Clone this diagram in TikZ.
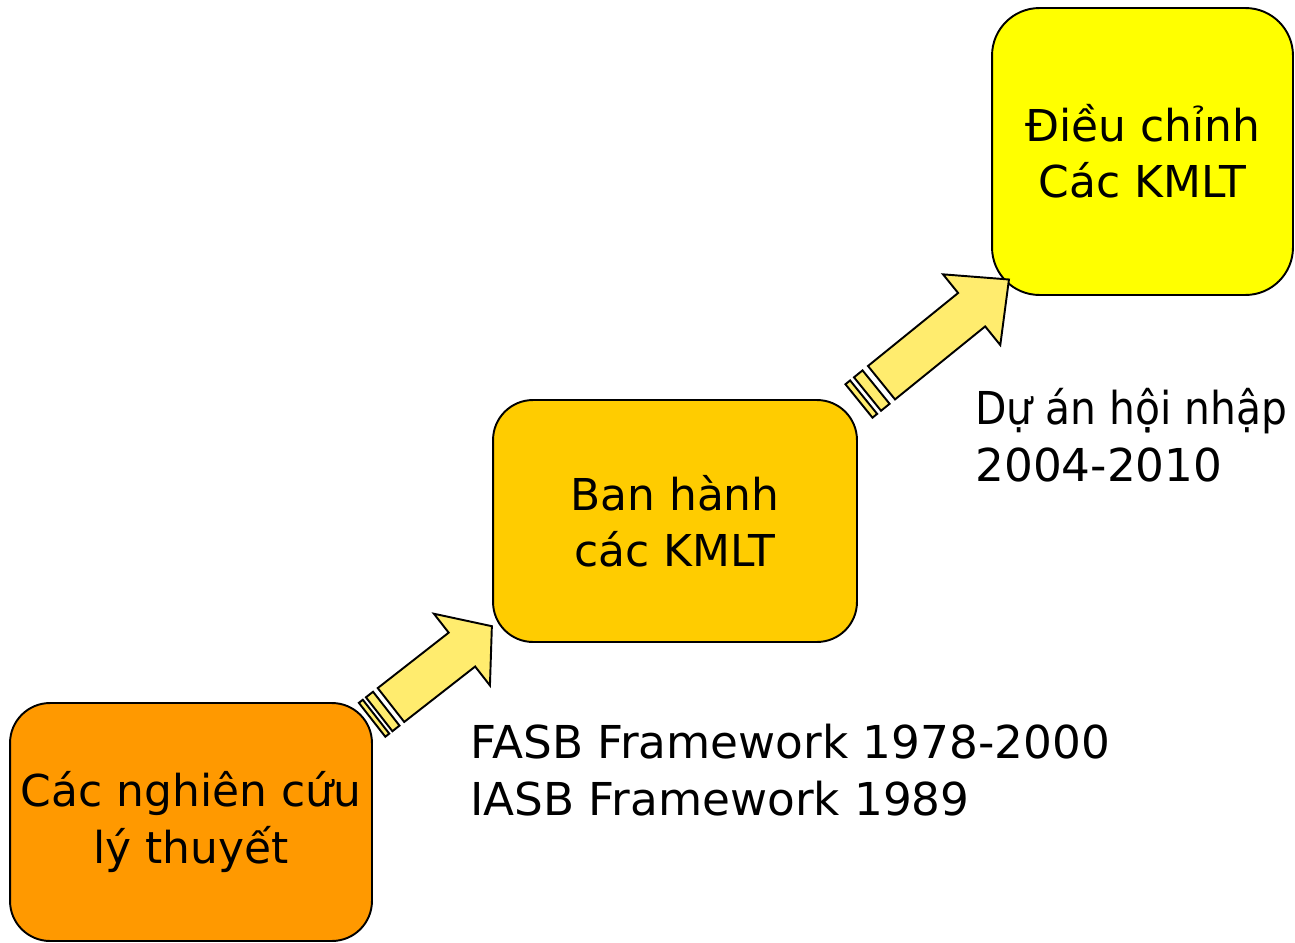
\documentclass[tikz,border=0pt]{standalone}
\usepackage{graphicx}
\usepackage{fontspec}
\setmainfont{DejaVu Sans}
\definecolor{boxorange}{RGB}{255,153,0}
\definecolor{boxgold}{RGB}{255,204,0}
\definecolor{boxyellow}{RGB}{255,255,0}
\definecolor{arrowfill}{RGB}{255,236,110}

% striped block arrow, tail centre at the origin, pointing along +x
% #1 stripe1, #2 gap1, #3 stripe2, #4 gap2, #5 shaft length, #6 head length
\newcommand{\stripedblockarrow}[6]{%
  \pgfmathsetmacro{\sa}{-(#1+#2+#3+#4)}%
  \pgfmathsetmacro{\sb}{\sa+#1}%
  \pgfmathsetmacro{\sc}{\sb+#2}%
  \pgfmathsetmacro{\sd}{\sc+#3}%
  \draw[blockarrow] (\sa,-21.5) rectangle (\sb,21.5);
  \draw[blockarrow] (\sc,-21.5) rectangle (\sd,21.5);
  \draw[blockarrow] (0,-21.5) -- (#5,-21.5) -- (#5,-45.5) -- (#5+#6,0)
     -- (#5,45.5) -- (#5,21.5) -- (0,21.5) -- cycle;
}

\tikzset{
  stage/.style={draw=black, line width=1.1pt, rounded corners=0.8cm,
    align=center, inner sep=0pt, font=\fontsize{25}{32}\selectfont},
  blockarrow/.style={draw=black, line width=1.1pt, fill=arrowfill, line join=miter},
  note/.style={align=left, inner sep=0pt, anchor=base west,
    font=\fontsize{25.8}{32}\selectfont},
}

\begin{document}
\begin{tikzpicture}[x=0.02cm, y=-0.02cm]
  \useasboundingbox (0,0) rectangle (1295,943);
  \clip (0,0) rectangle (1295,943);

  % the three stages
  \node[stage, fill=boxorange, minimum width=7.24cm, minimum height=4.76cm]
    (research) at (191,822) {Các nghiên cứu\\lý thuyết};
  \node[stage, fill=boxgold, minimum width=7.28cm, minimum height=4.84cm]
    (issue) at (675,521) {Ban hành\\các KMLT};
  \node[stage, fill=boxyellow, minimum width=6.02cm, minimum height=5.74cm,
    rounded corners=0.95cm]
    (adjust) at (1142.5,151.5) {Điều chỉnh\\Các KMLT};

  % arrows between the stages
  \coordinate (tailA) at (391,705);
  \coordinate (tailB) at (881.5,382.7);
  \begin{scope}[shift={(tailA)}, rotate=38]
    \stripedblockarrow{5}{4}{9}{6}{90}{38}
  \end{scope}
  \begin{scope}[shift={(tailB)}, rotate=39]
    \stripedblockarrow{6}{5}{11}{7}{116}{48}
  \end{scope}

  % milestones (anchored on the baseline of the last line)
  \node[note] (frameworks) at (470,815)
    {FASB Framework 1978-2000\\IASB Framework 1989};
  \node[note] (convergence) at (975,481)
    {\scalebox{0.9}[1]{Dự án hội nhập}\\2004-2010};
\end{tikzpicture}
\end{document}
